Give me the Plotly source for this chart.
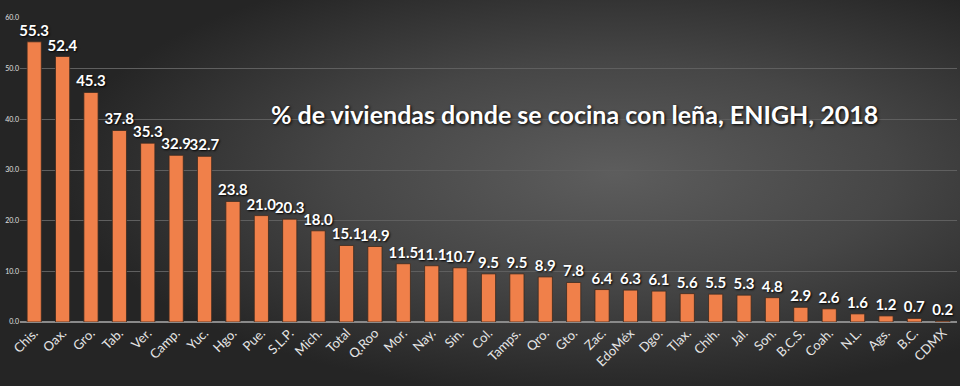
import base64
import plotly.graph_objects as go

categories = ["Chis.", "Oax.", "Gro.", "Tab.", "Ver.", "Camp.", "Yuc.", "Hgo.", "Pue.", "S.L.P.",
              "Mich.", "Total", "Q.Roo", "Mor.", "Nay.", "Sin.", "Col.", "Tamps.", "Qro.", "Gto.",
              "Zac.", "EdoMéx", "Dgo.", "Tlax.", "Chih.", "Jal.", "Son.", "B.C.S.", "Coah.", "N.L.",
              "Ags.", "B.C.", "CDMX"]
values = [55.3, 52.4, 45.3, 37.8, 35.3, 32.9, 32.7, 23.8, 21.0, 20.3,
          18.0, 15.1, 14.9, 11.5, 11.1, 10.7, 9.5, 9.5, 8.9, 7.8,
          6.4, 6.3, 6.1, 5.6, 5.5, 5.3, 4.8, 2.9, 2.6, 1.6,
          1.2, 0.7, 0.2]
y_ticks = [0, 10, 20, 30, 40, 50, 60]
title_text = "% de viviendas donde se cocina con leña, ENIGH, 2018"

W, H = 960, 386
ML, MR, MT, MB = 20, 3, 18, 64
pw = W - ML - MR
ph = H - MT - MB

svg = f'''<svg xmlns="http://www.w3.org/2000/svg" width="{W}" height="{H}" viewBox="0 0 {W} {H}" preserveAspectRatio="none">
<defs><radialGradient id="g" cx="0.64" cy="0.45" r="0.58">
<stop offset="0" stop-color="#5d5d5d"/><stop offset="0.5" stop-color="#464646"/><stop offset="1" stop-color="#252525"/>
</radialGradient></defs>
<rect x="0" y="0" width="{W}" height="{H}" fill="url(#g)"/></svg>'''
src = "data:image/svg+xml;base64," + base64.b64encode(svg.encode()).decode()

fig = go.Figure()
fig.add_trace(go.Bar(
    x=categories, y=values,
    marker=dict(color="#f0804a", line=dict(color="#3a2a20", width=0.8)),
    text=[f"{v:.1f}" for v in values],
    textposition="outside",
    constraintext="none",
    cliponaxis=False,
    textfont=dict(family="Lato", size=15, color="#ffffff", weight="bold",
                  shadow="1px 1px 2px #000000"),
))

fig.update_layout(
    width=W, height=H,
    margin=dict(l=ML, r=MR, t=MT, b=MB, autoexpand=False),
    paper_bgcolor="#2a2a2a",
    plot_bgcolor="rgba(0,0,0,0)",
    bargap=0.5,
    showlegend=False,
    images=[dict(source=src, xref="paper", yref="paper",
                 x=-ML / pw, y=1 + MT / ph, sizex=W / pw, sizey=H / ph,
                 xanchor="left", yanchor="top", sizing="stretch", layer="below")],
    annotations=[dict(text=title_text, xref="paper", yref="paper",
                      x=(574 - ML) / pw, y=(322 - 114) / ph, xanchor="center", yanchor="middle",
                      showarrow=False,
                      font=dict(family="Lato", size=25, color="#ffffff", weight="bold",
                                shadow="1px 1px 3px #000000"))],
)
fig.update_xaxes(
    tickangle=-45, tickfont=dict(family="Lato", size=13, color="#e6e6e6"),
    showgrid=False, showline=False, ticks="", automargin=False,
)
fig.update_yaxes(
    range=[0, 60], tickvals=y_ticks, tickformat=".1f",
    tickfont=dict(family="Lato", size=7, color="#e0e0e0"),
    gridcolor="#5f5f5f", gridwidth=1,
    zeroline=True, zerolinecolor="#8a8a8a", zerolinewidth=2,
    ticks="", ticklen=0, automargin=False,
)

fig.write_html("out.html", config={"displayModeBar": False},
               post_script="document.body.style.margin='0';document.body.style.overflow='hidden';")
